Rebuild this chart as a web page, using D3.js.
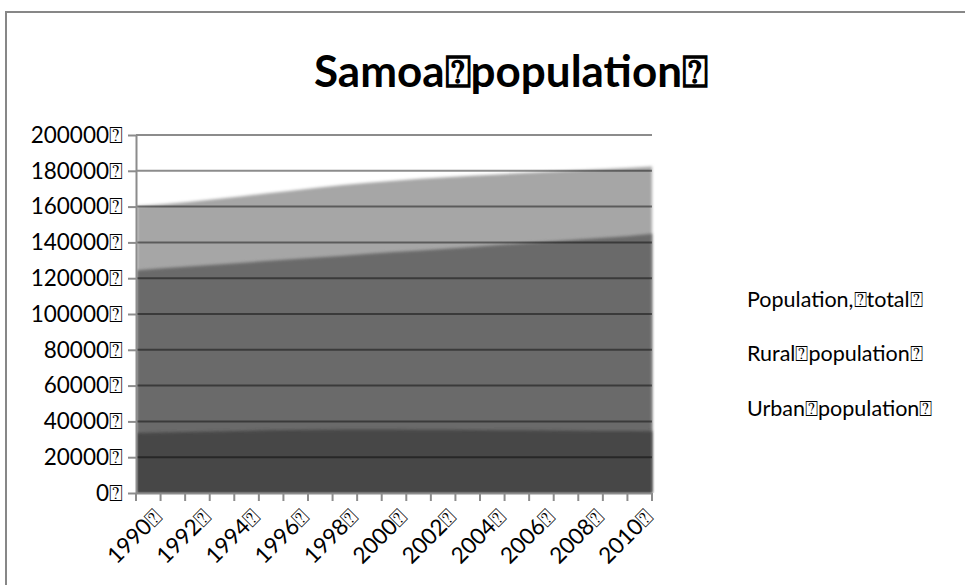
<!DOCTYPE html>
<html>
<head>
<meta charset="utf-8">
<script src="https://cdn.jsdelivr.net/npm/d3@7"></script>
<style>
  body { margin: 0; background: #fff; }
  svg { display: block; }
</style>
</head>
<body>
<div id="chart"></div>
<script>
const years = [1990, 1991, 1992, 1993, 1994, 1995, 1996, 1997, 1998, 1999, 2000,
               2001, 2002, 2003, 2004, 2005, 2006, 2007, 2008, 2009, 2010];
const totalPop = [160300, 161300, 162600, 164100, 165700, 167300, 168900, 170500, 172000, 173300, 174500,
                  175500, 176400, 177200, 178000, 178800, 179500, 180200, 180900, 181600, 182400];
const ruralPop = [124500, 125500, 126500, 127500, 128500, 129600, 130600, 131600, 132600, 133600, 134600,
                  135500, 136500, 137500, 138500, 139500, 140500, 141500, 142500, 143500, 144800];
const urbanPop = [33500, 33800, 34100, 34400, 34700, 35000, 35200, 35400, 35500, 35500, 35500,
                  35400, 35300, 35200, 35100, 35000, 34900, 34800, 34700, 34600, 34500];
const yTicks = [0, 20000, 40000, 60000, 80000, 100000, 120000, 140000, 160000, 180000, 200000];
const xLabelYears = [1990, 1992, 1994, 1996, 1998, 2000, 2002, 2004, 2006, 2008, 2010];
const seriesNames = ["Population, total", "Rural population", "Urban population"];
const seriesColors = ["#a6a6a6", "#6b6b6b", "#474747"];
const titleText = "Samoa population";

// the original export shows a missing-glyph box in place of every space, plus one at the end
const BOX = "\u2370";
const boxed = s => s.replace(/ /g, BOX) + BOX;

const width = 965, height = 585;
const plot = { left: 136, right: 652, top: 135, bottom: 493 };
const font = "Lato, 'Open Sans', sans-serif";

const svg = d3.select("#chart").append("svg")
    .attr("width", width)
    .attr("height", height);

const defs = svg.append("defs");
defs.append("filter")
    .attr("id", "soft")
    .attr("x", "-5%").attr("y", "-5%").attr("width", "110%").attr("height", "110%")
  .append("feGaussianBlur")
    .attr("stdDeviation", 1.6);
defs.append("clipPath")
    .attr("id", "plotclip")
  .append("rect")
    .attr("x", plot.left + 1).attr("y", plot.top - 10)
    .attr("width", plot.right - plot.left + 4).attr("height", plot.bottom - plot.top + 10);

// chart frame
svg.append("rect")
    .attr("x", 6).attr("y", 12)
    .attr("width", 1000).attr("height", 620)
    .attr("fill", "none")
    .attr("stroke", "#878787")
    .attr("stroke-width", 2);

const xBand = d3.scaleBand().domain(years).range([plot.left, plot.right]);
const xPoint = d3.scalePoint().domain(years).range([plot.left + 1, plot.right]);
const y = d3.scaleLinear().domain([0, 200000]).range([plot.bottom, plot.top]);

const series = [totalPop, ruralPop, urbanPop].map((vals, i) => ({
    name: seriesNames[i],
    color: seriesColors[i],
    values: years.map((yr, j) => ({ year: yr, value: vals[j] }))
}));

const area = d3.area()
    .x(d => xPoint(d.year))
    .y0(y(0))
    .y1(d => y(d.value));

svg.append("g")
    .attr("clip-path", "url(#plotclip)")
  .selectAll("path")
  .data(series)
  .join("path")
    .attr("d", d => area(d.values))
    .attr("fill", d => d.color)
    .attr("filter", "url(#soft)");

// gridlines sit over the areas and darken with them
svg.append("g")
  .selectAll("line")
  .data(yTicks.filter(v => v > 0))
  .join("line")
    .attr("x1", plot.left).attr("x2", plot.right)
    .attr("y1", d => y(d)).attr("y2", d => y(d))
    .attr("stroke", "#000")
    .attr("stroke-opacity", 0.45)
    .attr("stroke-width", 2);

const yAxis = svg.append("g")
    .attr("transform", `translate(${plot.left},0)`)
    .call(d3.axisLeft(y).tickValues(yTicks).tickSize(8).tickSizeOuter(0).tickPadding(5)
        .tickFormat(d => boxed(String(d))));
yAxis.select(".domain").attr("stroke", "#8c8c8c").attr("stroke-width", 2);
yAxis.selectAll(".tick line").attr("stroke", "#8c8c8c").attr("stroke-width", 2);
yAxis.selectAll(".tick text")
    .attr("font-family", font)
    .attr("font-size", 22.5)
    .attr("fill", "#000");

const xAxis = svg.append("g")
    .attr("transform", `translate(0,${plot.bottom})`)
    .call(d3.axisBottom(xBand).tickSize(0).tickSizeOuter(0).tickFormat(""));
xAxis.select(".domain").attr("stroke", "#8c8c8c").attr("stroke-width", 2);
xAxis.selectAll(".tick").remove();

// tick marks on category boundaries
xAxis.append("g")
  .selectAll("line")
  .data(years.concat([null]))
  .join("line")
    .attr("x1", (d, i) => i < years.length ? xBand(d) : plot.right)
    .attr("x2", (d, i) => i < years.length ? xBand(d) : plot.right)
    .attr("y1", 0).attr("y2", 8)
    .attr("stroke", "#8c8c8c")
    .attr("stroke-width", 2);

xAxis.append("g")
  .selectAll("text")
  .data(xLabelYears)
  .join("text")
    .attr("transform", d => `translate(${xBand(d) + xBand.bandwidth() / 2 + 4},${14}) rotate(-45)`)
    .attr("text-anchor", "end")
    .attr("dy", "0.7em")
    .attr("font-family", font)
    .attr("font-size", 22.5)
    .attr("fill", "#000")
    .text(d => boxed(String(d)));

svg.append("text")
    .attr("x", 511).attr("y", 87)
    .attr("text-anchor", "middle")
    .attr("font-family", font)
    .attr("font-weight", "bold")
    .attr("font-size", 44)
    .attr("fill", "#000")
    .text(boxed(titleText));

svg.append("g")
  .selectAll("text")
  .data(seriesNames)
  .join("text")
    .attr("x", 747)
    .attr("y", (d, i) => 299 + i * 54.5)
    .attr("dy", "0.35em")
    .attr("font-family", font)
    .attr("font-size", 21.5)
    .attr("fill", "#000")
    .text(d => boxed(d));
</script>
</body>
</html>
